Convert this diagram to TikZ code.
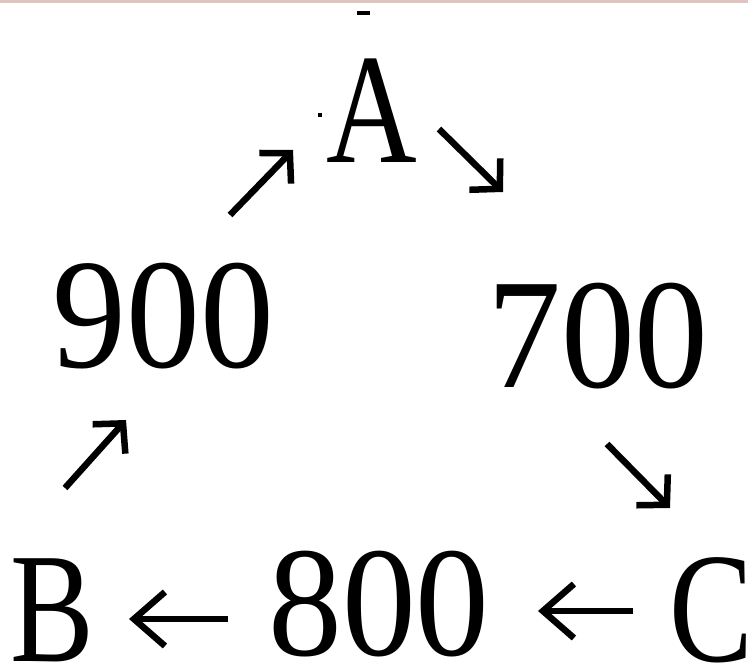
\documentclass[tikz,border=0pt]{standalone}
\usepackage{fontspec}
\setmainfont{Liberation Serif}
\newfontfamily\letterfont[FakeStretch=0.8]{Liberation Serif}
\newfontfamily\digitfont[FakeStretch=0.94]{Liberation Serif}
\usetikzlibrary{arrows.meta}
\definecolor{topline}{RGB}{223,197,190}
\tikzset{
  big/.style={inner sep=0pt, anchor=base, font=\fontsize{157}{157}\selectfont\digitfont},
  bigletter/.style={inner sep=0pt, anchor=base, font=\fontsize{157}{157}\selectfont\letterfont},
  diagarrow/.style={line width=6.5pt, -{Straight Barb[length=21pt, width=44pt, line join=miter, line cap=butt]}},
  horarrow/.style={line width=6.5pt, -{Straight Barb[length=31pt, width=54pt, line join=miter, line cap=butt]}},
  speck/.style={fill=black, draw=none}
}
\begin{document}
\begin{tikzpicture}[x=1pt, y=-1pt]
  \useasboundingbox (0,0) rectangle (748,668);
  \fill[white] (0,0) rectangle (748,668);
  \fill[topline] (0,0) rectangle (748,3);
  \fill[speck] (357,11) rectangle (370,15);
  \fill[speck] (318,113) rectangle (322,117);

  \node[bigletter] (A) at (371.5,163) {A};
  \node[big] (n900) at (163.5,368) {900};
  \node[big] (n700) at (598,388) {700};
  \node[big] (n800) at (379,655) {800};
  \node[bigletter] (B) at (52,661) {B};
  \node[bigletter] (C) at (711,661) {C};

  \coordinate (a1s) at (230,215);
  \coordinate (a1e) at (293,150);
  \coordinate (a2s) at (439,129);
  \coordinate (a2e) at (503,192);
  \coordinate (a3s) at (607,444);
  \coordinate (a3e) at (670,508);
  \coordinate (a4s) at (65,488);
  \coordinate (a4e) at (126,420);
  \coordinate (a5s) at (633,611);
  \coordinate (a5e) at (538,611);
  \coordinate (a6s) at (228,619);
  \coordinate (a6e) at (129,619);

  \draw[diagarrow] (a1s) -- (a1e);
  \draw[diagarrow] (a2s) -- (a2e);
  \draw[diagarrow] (a3s) -- (a3e);
  \draw[diagarrow] (a4s) -- (a4e);
  \draw[horarrow] (a5s) -- (a5e);
  \draw[horarrow] (a6s) -- (a6e);
\end{tikzpicture}
\end{document}
